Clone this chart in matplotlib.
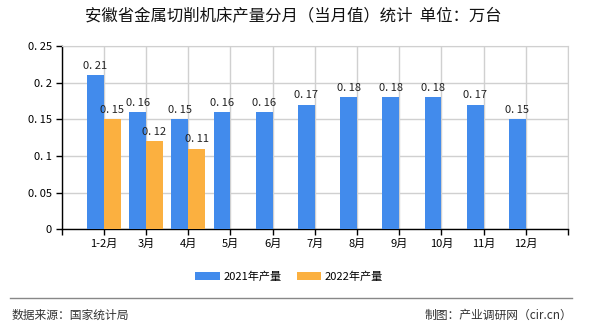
import matplotlib
matplotlib.use("Agg")
import matplotlib.pyplot as plt
from matplotlib.patches import Patch
from matplotlib.lines import Line2D

plt.rcParams['font.family'] = ['Noto Sans CJK SC', 'DejaVu Sans']

categories = ['1-2月', '3月', '4月', '5月', '6月', '7月', '8月', '9月', '10月', '11月', '12月']
values_2021 = [0.21, 0.16, 0.15, 0.16, 0.16, 0.17, 0.18, 0.18, 0.18, 0.17, 0.15]
values_2022 = [0.15, 0.12, 0.11]
series_names = ['2021年产量', '2022年产量']
title = '安徽省金属切削机床产量分月（当月值）统计  单位：万台'

blue = '#428BEC'
orange = '#FBB040'

fig = plt.figure(figsize=(5.9, 3.3), dpi=100)
ax = fig.add_axes([0.1046, 0.3052, 0.9627 - 0.1046, 0.8606 - 0.3052])

x = list(range(1, len(categories) + 1))
w = 0.4
ax.bar([xi - w / 2 for xi in x], values_2021, width=w, color=blue, zorder=3)
ax.bar([xi + w / 2 for xi in x[:len(values_2022)]], values_2022, width=w, color=orange, zorder=3)

for xi, v in zip(x, values_2021):
    ax.text(xi - w / 2, v + 0.006, f'{v:.2f}'.replace('.', '. '), ha='center', va='bottom',
            fontsize=8, color='#222222', zorder=4)
for xi, v in zip(x, values_2022):
    ax.text(xi + w / 2, v + 0.006, f'{v:.2f}'.replace('.', '. '), ha='center', va='bottom',
            fontsize=8, color='#222222', zorder=4)

ax.set_xlim(0, 12)
ax.set_ylim(0, 0.25)
ax.set_xticks(range(0, 13))
ax.set_xticklabels([''] + categories + [''], fontsize=8)
yt = [0, 0.05, 0.1, 0.15, 0.2, 0.25]
ax.set_yticks(yt)
ax.set_yticklabels(['0', '0. 05', '0. 1', '0. 15', '0. 2', '0. 25'], fontsize=8)
ax.tick_params(axis='both', length=4, width=1, color='#000000', direction='out', pad=3)

ax.grid(True, color='#D0D0D0', linewidth=1, zorder=0)
for s in ['top', 'right']:
    ax.spines[s].set_color('#D0D0D0')
for s in ['left', 'bottom']:
    ax.spines[s].set_color('#000000')
    ax.spines[s].set_linewidth(1)

fig.text(0.497, 0.948, title, ha='center', va='center', fontsize=11.8, color='#111111')

handles = [Patch(facecolor=blue, edgecolor='none'), Patch(facecolor=orange, edgecolor='none')]
fig.legend(handles, series_names, loc='center', bbox_to_anchor=(0.49, 0.162), ncol=2,
           frameon=False, fontsize=8, handlelength=2.2, handleheight=0.8, columnspacing=1.4,
           handletextpad=0.3)

fig.add_artist(Line2D([0.017, 0.969], [0.097, 0.097], color='#888888', linewidth=1))
fig.text(0.019, 0.045, '数据来源：国家统计局', ha='left', va='center', fontsize=8.5, color='#333333')
fig.text(0.97, 0.045, '制图：产业调研网（cir.cn）', ha='right', va='center', fontsize=8.5, color='#333333')

fig.savefig('out.png', dpi=100)
